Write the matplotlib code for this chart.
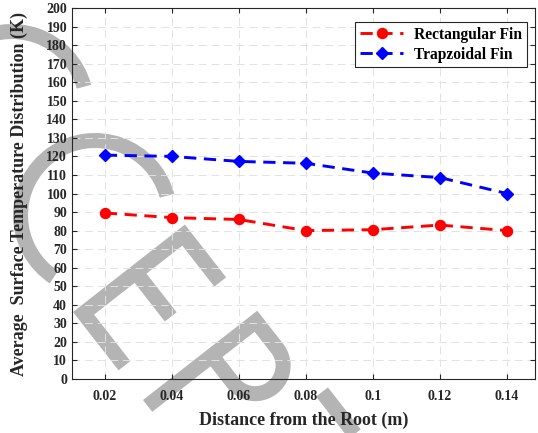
import matplotlib
matplotlib.use('Agg')
import matplotlib.pyplot as plt
import numpy as np
from matplotlib.lines import Line2D
from matplotlib.patches import Wedge
from matplotlib.transforms import IdentityTransform

# 数据
distance = [0.02, 0.04, 0.06, 0.08, 0.1, 0.12, 0.14]
rect_fin = [89.5, 87, 86, 80, 80.5, 83, 80]
trap_fin = [120.7, 120, 117.3, 116.3, 111, 108.6, 100]
xtick_labels = ['0.02', '0.04', '0.06', '0.08', '0.1', '0.12', '0.14']
yticks = list(range(0, 201, 10))

plt.rcParams['font.family'] = ['Liberation Serif', 'DejaVu Serif']
plt.rcParams['font.weight'] = 'bold'
plt.rcParams['axes.labelweight'] = 'bold'

W, H = 538, 433
fig = plt.figure(figsize=(W / 100, H / 100), dpi=100, facecolor='white')
ax = fig.add_axes([0.1338, 0.1247, 0.8606, 0.8568])
ax.set_facecolor('none')

# ---- 水印 "...CCEPT..." (像素坐标, 左上角为原点, 画在坐标轴后面) ----
WM_COL = '#b4b4b4'
STROKE = 15  # px
ang = np.deg2rad(52)
b = np.array([np.cos(ang), np.sin(ang)])     # 字母基线方向 (图像坐标)
u = np.array([np.sin(ang), -np.cos(ang)])    # 字母"向上"方向

def wm_stroke(origin, pts):
    o = np.array(origin, float)
    xy = np.array([o + s * b + t * u for s, t in pts])
    fig.add_artist(Line2D(xy[:, 0], H - xy[:, 1], transform=IdentityTransform(),
                          color=WM_COL, lw=STROKE * 0.72, solid_capstyle='butt',
                          solid_joinstyle='miter', zorder=-1))

def wm_C(cx, cy, r=82):
    fig.add_artist(Wedge((cx, H - cy), r, 15, 236.5, width=STROKE, color=WM_COL,
                         lw=0, transform=IdentityTransform(), zorder=-1))

h = STROKE / 2
wm_C(12, 106)
wm_C(95, 215)
# E
wm_stroke((73, 312), [(67, 142 - h), (h, 142 - h), (h, h), (74, h)])
wm_stroke((73, 312), [(h, 74), (64, 74)])
# P
arc = np.linspace(np.pi / 2, -np.pi / 2, 30)
p_pts = [(h, 0), (h, 145 - h), (42, 145 - h)]
p_pts += [(42 + 28 * np.cos(a), 145 - h - 28 + 28 * np.sin(a)) for a in arc]
p_pts += [(h, 145 - h - 56)]
wm_stroke((143, 400), p_pts)
# T
wm_stroke((322, 392), [(0, 0), (110, 0)])
wm_stroke((322, 392), [(55, 0), (55, -140)])

# ---- 数据曲线 ----
ax.plot(distance, rect_fin, color='red', lw=2.1, linestyle=(0, (4.2, 2.6)),
        marker='o', markersize=7.2, label='Rectangular Fin')
ax.plot(distance, trap_fin, color='blue', lw=2.1, linestyle=(0, (4.2, 2.6)),
        marker='D', markersize=6.2, label='Trapzoidal Fin')

ax.set_xlim(0.0102, 0.1484)
ax.set_ylim(0, 200)
ax.set_xticks(distance)
ax.set_xticklabels(xtick_labels)
ax.set_yticks(yticks)
ax.tick_params(direction='in', length=3.6, width=0.8, top=True, right=True,
               labelsize=10, colors='#262626')
ax.tick_params(axis='x', pad=8)
ax.tick_params(axis='y', pad=3.5)
for s in ax.spines.values():
    s.set_color('#262626')
    s.set_linewidth(0.8)
ax.grid(True, color='#e2e2e2', lw=0.7, linestyle=(0, (8, 5)))
ax.set_axisbelow(True)

ax.set_xlabel('Distance from the Root (m)', fontsize=13, labelpad=6.5, color='#262626')
ax.set_ylabel('Average  Surface Temperature Distribution (K)', fontsize=13,
              labelpad=13, color='#262626')

leg = ax.legend(loc='upper right', bbox_to_anchor=(0.982, 0.962), borderaxespad=0,
                fontsize=11.2, handlelength=2.76, handletextpad=0.7,
                borderpad=0.3, labelspacing=0.25, fancybox=False, framealpha=1)
leg.get_frame().set_edgecolor('#262626')
leg.get_frame().set_linewidth(0.8)

fig.savefig('out.png', dpi=100)
